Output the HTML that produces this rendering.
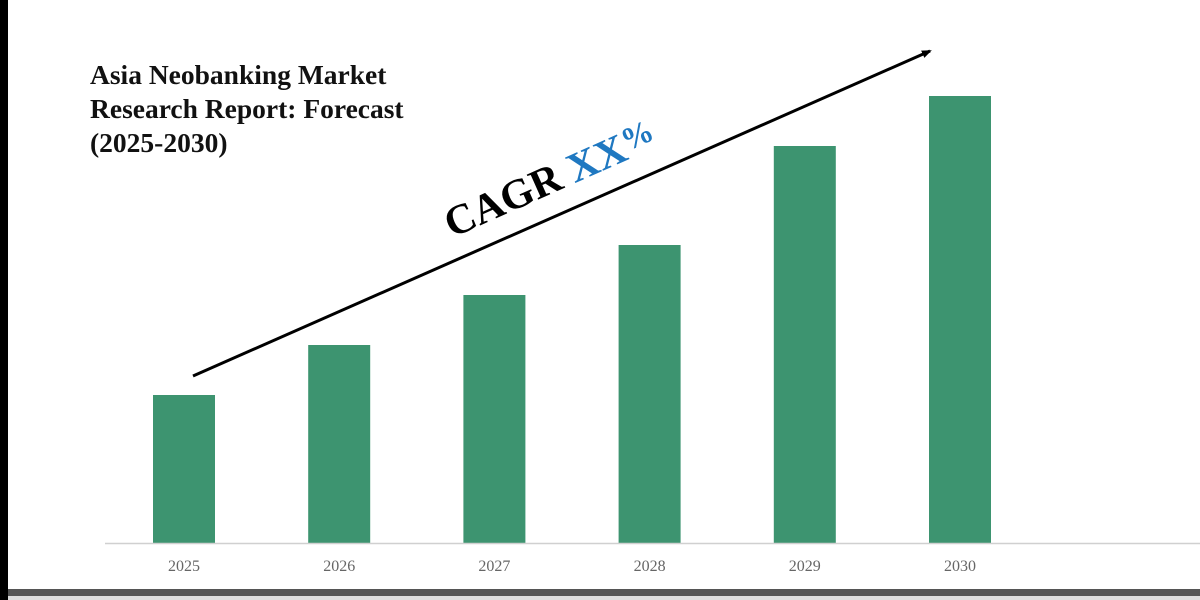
<!DOCTYPE html>
<html><head><meta charset="utf-8"><style>
body{margin:0;width:1200px;height:600px;overflow:hidden;background:#fff;position:relative;font-family:"Liberation Serif",serif}
</style></head><body>
<div style="position:absolute;left:0;top:0;width:8px;height:600px;background:#000"></div>
<div style="position:absolute;left:8px;top:589px;width:1192px;height:7px;background:#555"></div>
<div style="position:absolute;left:8px;top:596px;width:1192px;height:4px;background:#ddd"></div>
<div style="position:absolute;left:90px;top:58px;font-weight:bold;font-size:27.5px;line-height:34px;color:#111">Asia Neobanking Market<br>Research Report: Forecast<br>(2025-2030)</div>
<svg width="1200" height="600" style="position:absolute;left:0;top:0">
<g id="bars"></g>
<line x1="105" y1="543.5" x2="1200" y2="543.5" stroke="#d0d0d0" stroke-width="1.5"/>
<g id="labels"></g>
<defs><marker id="ah" markerWidth="10" markerHeight="8" refX="8" refY="4" orient="auto" markerUnits="userSpaceOnUse"><path d="M0,0 L10,4 L0,8 Z" fill="#000"/></marker></defs>
<line x1="193" y1="376" x2="930" y2="51" stroke="#000" stroke-width="3" marker-end="url(#ah)"/>
<text transform="translate(452,238) rotate(-24)" font-family="Liberation Serif, serif" font-weight="bold" font-size="42" fill="#000">CAGR <tspan fill="#1f78c1">XX</tspan><tspan fill="#1f78c1" font-size="32" dy="-8">%</tspan></text>
</svg>
<script>
const categories=["2025","2026","2027","2028","2029","2030"];
const values=[148,198,248,298,397,447];
const baseY=543, x0=153, step=155.2, bw=62;
function xs(i){return x0+i*step;}
function ys(v){return baseY-v;}
const ns="http://www.w3.org/2000/svg";
const bars=document.getElementById('bars'), labels=document.getElementById('labels');
categories.forEach((c,i)=>{
 const r=document.createElementNS(ns,'rect');
 
 
 r.setAttribute('x',xs(i));r.setAttribute('y',ys(values[i]));
 r.setAttribute('width',bw);r.setAttribute('height',baseY-ys(values[i]));
 r.setAttribute('fill','#3d9470');bars.appendChild(r);
 const t=document.createElementNS(ns,'text');
 
 
 t.setAttribute('x',xs(i)+bw/2);t.setAttribute('y',571);
 t.setAttribute('text-anchor','middle');t.setAttribute('font-size','16');
 t.setAttribute('fill','#666');t.setAttribute('font-family','Liberation Serif, serif');
 t.textContent=c;labels.appendChild(t);
});
</script>
</body></html>
